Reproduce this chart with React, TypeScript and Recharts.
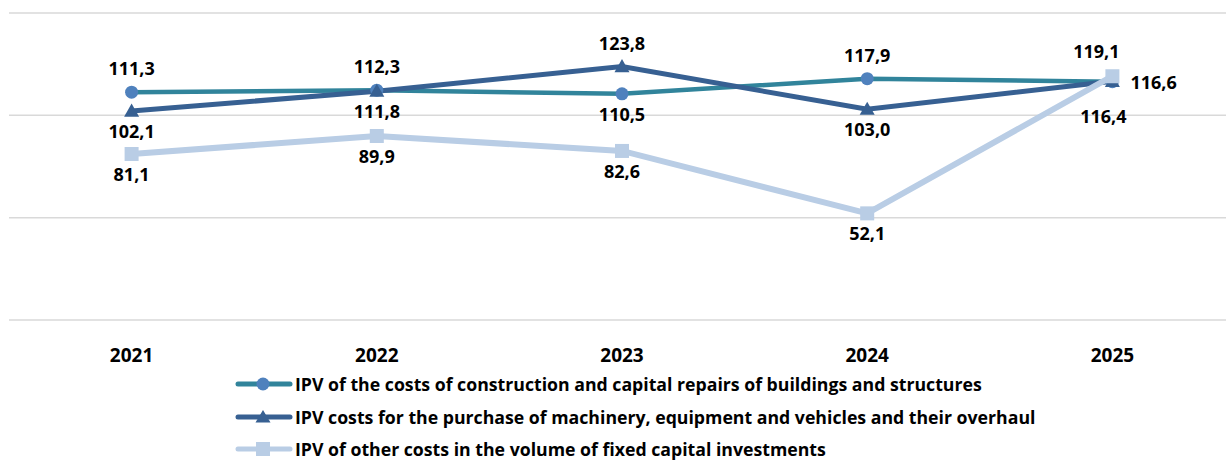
import React from 'react';
import { LineChart, Line, XAxis, YAxis, CartesianGrid, LabelList } from 'recharts';

const years = ['2021', '2022', '2023', '2024', '2025'];
const construction = [111.3, 112.3, 110.5, 117.9, 116.4];
const machinery = [102.1, 111.8, 123.8, 103.0, 116.6];
const otherCosts = [81.1, 89.9, 82.6, 52.1, 119.1];
const yTicks = [0, 50, 100, 150];

const seriesNames = [
  'IPV of the costs of construction and capital repairs of buildings and structures',
  'IPV costs for the purchase of machinery, equipment and vehicles and their overhaul',
  'IPV of other costs in the volume of fixed capital investments',
];

// where each data label sits relative to its point
const constructionLabelPos = ['top', 'top', 'bottom', 'top', 'belowFar'];
const machineryLabelPos = ['bottom', 'bottom', 'top', 'bottom', 'right'];
const otherLabelPos = ['bottom', 'bottom', 'bottom', 'bottom', 'topLeft'];

const data = years.map((year, i) => ({
  year,
  construction: construction[i],
  machinery: machinery[i],
  other: otherCosts[i],
}));

const FONT = '"Open Sans", Lato, sans-serif';
const TEAL = '#31849b';
const CIRCLE = '#4f81bd';
const DARK = '#376092';
const LIGHT = '#b9cde5';

const fmt = (v: number) => v.toFixed(1).replace('.', ',');

function circleDot(props: any) {
  const { cx, cy, index } = props;
  return <circle key={`c-${index}`} cx={cx} cy={cy} r={6.5} fill={CIRCLE} />;
}

function triangleDot(props: any) {
  const { cx, cy, index } = props;
  const s = 7.5;
  return (
    <polygon
      key={`t-${index}`}
      points={`${cx},${cy - s} ${cx + s},${cy + s * 0.75} ${cx - s},${cy + s * 0.75}`}
      fill={DARK}
    />
  );
}

function squareDot(props: any) {
  const { cx, cy, index } = props;
  const s = 7;
  return <rect key={`s-${index}`} x={cx - s} y={cy - s} width={s * 2} height={s * 2} fill={LIGHT} />;
}

function makeLabel(positions: string[]) {
  return (props: any) => {
    const { x, y, value, index } = props;
    const pos = positions[index];
    let tx = x;
    let ty = y;
    let anchor: 'middle' | 'start' = 'middle';
    if (pos === 'top') ty = y - 24;
    if (pos === 'bottom') ty = y + 20;
    if (pos === 'topLeft') {
      tx = x - 16;
      ty = y - 25;
    }
    if (pos === 'belowFar') {
      tx = x - 9;
      ty = y + 34;
    }
    if (pos === 'right') {
      tx = x + 18;
      anchor = 'start';
      ty = y + 1;
    }
    return (
      <text
        key={`l-${index}`}
        x={tx}
        y={ty}
        textAnchor={anchor}
        dominantBaseline="central"
        fontFamily={FONT}
        fontWeight={700}
        fontSize={18}
        fill="#000"
      >
        {fmt(value)}
      </text>
    );
  };
}

function YearTick(props: any) {
  const { x, y, payload } = props;
  return (
    <text x={x} y={y + 34} textAnchor="middle" fontFamily={FONT} fontWeight={700} fontSize={19} fill="#000">
      {payload.value}
    </text>
  );
}

function LegendBlock() {
  const rows = [
    { color: TEAL, marker: 'circle' },
    { color: DARK, marker: 'triangle' },
    { color: LIGHT, marker: 'square' },
  ];
  return (
    <div style={{ position: 'absolute', left: 235, top: 368, fontFamily: FONT, fontWeight: 700, fontSize: 17.7 }}>
      {rows.map((r, i) => (
        <div key={i} style={{ display: 'flex', alignItems: 'center', height: 32.5, whiteSpace: 'nowrap' }}>
          <svg width={58} height={20} style={{ marginRight: 2 }}>
            <line x1={3} y1={10} x2={55} y2={10} stroke={r.color} strokeWidth={5} strokeLinecap="round" />
            {r.marker === 'circle' && <circle cx={28} cy={10} r={6.5} fill={CIRCLE} />}
            {r.marker === 'triangle' && <polygon points="28,3 35.5,15.5 20.5,15.5" fill={DARK} />}
            {r.marker === 'square' && <rect x={21} y={3} width={14} height={14} fill={LIGHT} />}
          </svg>
          <span style={{ color: '#000' }}>{seriesNames[i]}</span>
        </div>
      ))}
    </div>
  );
}

export default function App() {
  return (
    <div
      style={{
        position: 'absolute',
        left: 0,
        top: 0,
        width: 1226,
        height: 460,
        overflow: 'hidden',
        background: '#fff',
      }}
    >
      <LineChart width={1240} height={460} data={data} margin={{ top: 13, right: 5, left: 9, bottom: 100 }}>
        <CartesianGrid vertical={false} stroke="#d9d9d9" strokeWidth={1.5} />
        <XAxis
          dataKey="year"
          axisLine={false}
          tickLine={false}
          height={40}
          tick={<YearTick />}
          interval={0}
          padding={{ left: 122.6, right: 122.6 }}
        />
        <YAxis hide domain={[0, 150]} ticks={yTicks} />
        <Line
          dataKey="construction"
          name={seriesNames[0]}
          stroke={TEAL}
          strokeWidth={4.5}
          dot={circleDot}
          activeDot={false}
          isAnimationActive={false}
        >
          <LabelList dataKey="construction" content={makeLabel(constructionLabelPos)} />
        </Line>
        <Line
          dataKey="machinery"
          name={seriesNames[1]}
          stroke={DARK}
          strokeWidth={5}
          dot={triangleDot}
          activeDot={false}
          isAnimationActive={false}
        >
          <LabelList dataKey="machinery" content={makeLabel(machineryLabelPos)} />
        </Line>
        <Line
          dataKey="other"
          name={seriesNames[2]}
          stroke={LIGHT}
          strokeWidth={6}
          dot={squareDot}
          activeDot={false}
          isAnimationActive={false}
        >
          <LabelList dataKey="other" content={makeLabel(otherLabelPos)} />
        </Line>
      </LineChart>
      <LegendBlock />
    </div>
  );
}
